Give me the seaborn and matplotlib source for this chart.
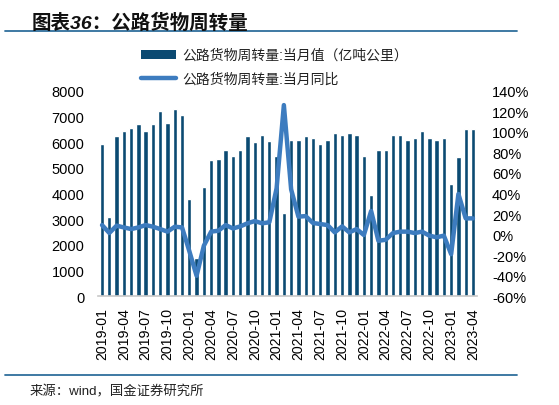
import numpy as np
import pandas as pd
import matplotlib
matplotlib.use("Agg")
import matplotlib.pyplot as plt
import seaborn as sns
from matplotlib.ticker import FuncFormatter, MultipleLocator
from matplotlib.lines import Line2D
from matplotlib.patches import Patch

# ---------------- data ----------------
months = pd.date_range("2019-01-01", "2023-04-01", freq="MS").strftime("%Y-%m").tolist()

turnover = [
    5930, 3070, 6220, 6440, 6560, 6690, 6440, 6690, 7210, 6740, 7280, 7050,   # 2019
    3790, 1480, 4240, 5300, 5340, 5690, 5460, 5690, 6220, 5990, 6280, 6040,   # 2020
    5460, 3240, 6090, 6090, 6220, 6150, 5930, 6090, 6340, 6260, 6340, 6260,   # 2021
    5460, 3940, 5690, 5690, 6260, 6260, 6090, 6150, 6440, 6150, 6090, 6150,   # 2022
    4360, 5410, 6510, 6510,                                                   # 2023
]

yoy = [
    9.3, 1.6, 8.7, 7.0, 5.4, 7.0, 9.3, 7.7, 5.4, 2.9, 7.7, 7.0,              # 2019
    -16.0, -40.0, -10.8, 2.9, 3.8, 9.3, 6.0, 8.0, 11.0, 13.2, 11.0, 12.0,    # 2020
    45.0, 126.0, 44.0, 17.5, 18.0, 11.3, 10.3, 9.3, 2.2, 8.0, 2.2, 5.4,      # 2021
    -0.4, 23.0, -6.0, -5.0, 1.5, 2.9, 2.9, 1.5, 2.9, -1.0, -2.6, -1.0,       # 2022
    -19.0, 39.5, 15.8, 15.8,                                                  # 2023
]

bar_label = "公路货物周转量:当月值（亿吨公里）"
line_label = "公路货物周转量:当月同比"
title = "图表36：公路货物周转量"
source = "来源：wind，国金证券研究所"

df = pd.DataFrame({"month": months, "turnover": turnover, "yoy": yoy})
df["pos"] = np.arange(len(df))

# ---------------- style ----------------
sns.set_theme(style="white")
plt.rcParams["font.family"] = ["Liberation Sans", "Noto Sans CJK SC", "DejaVu Sans"]

bar_color = "#0B4A72"
line_color = "#3D7CBF"

fig = plt.figure(figsize=(5.59, 4.06), dpi=100)
W, H = 559, 406
ax = fig.add_axes([98.4 / W, 1 - 297.3 / H, (476.6 - 98.4) / W, (297.3 - 91.7) / H])

sns.barplot(data=df, x="month", y="turnover", color=bar_color, saturation=1,
            width=0.6, errorbar=None, ax=ax, zorder=2)

ax2 = ax.twinx()
sns.lineplot(data=df, x="pos", y="yoy", color=line_color, linewidth=3.2,
             ax=ax2, zorder=3)

n = len(df)
ax.set_xlim(-0.5, n - 0.5)
ax.set_ylim(0, 8000)
ax2.set_ylim(-60, 140)

ax.yaxis.set_major_locator(MultipleLocator(1000))
ax2.yaxis.set_major_locator(MultipleLocator(20))
ax2.yaxis.set_major_formatter(FuncFormatter(lambda v, p: f"{v:.0f}%"))

ax.set_xticks(np.arange(0, n, 3))
ax.set_xticklabels(months[::3], rotation=90)

for a in (ax, ax2):
    a.set_xlabel("")
    a.set_ylabel("")
    for s in a.spines.values():
        s.set_visible(False)
    a.grid(False)

ax.spines["bottom"].set_visible(True)
ax.spines["bottom"].set_color("#C8C8C8")
ax.spines["bottom"].set_linewidth(1.2)

ax.tick_params(axis="x", length=0, pad=8, labelsize=10.2, colors="black")
ax.tick_params(axis="y", length=0, pad=10, labelsize=10.5, colors="black")
ax2.tick_params(axis="y", length=0, pad=11, labelsize=10.5, colors="black")

# legend
handles = [Patch(facecolor=bar_color, edgecolor="none"),
           Line2D([0], [0], color=line_color, linewidth=3.2)]
fig.legend(handles, [bar_label, line_label], loc="upper left",
           bbox_to_anchor=(141 / W, 1 - 49 / H), frameon=False,
           fontsize=10, handlelength=2.5, handleheight=0.6, handletextpad=0.45,
           labelspacing=0.72, borderpad=0, borderaxespad=0, labelcolor="#222222")

# title, rules, source
fig.text(32 / W, 1 - 23 / H, title, fontsize=14, fontweight="bold", style="italic",
         va="center", ha="left", color="#111111")
fig.add_artist(Line2D([5 / W, 517 / W], [1 - 32 / H] * 2, color="#2F6E9C", lw=1.3))
fig.add_artist(Line2D([5 / W, 517 / W], [1 - 376 / H] * 2, color="#2F6E9C", lw=1.3))
fig.text(30 / W, 1 - 392 / H, source, fontsize=9.6, va="center", ha="left", color="#222222")

fig.savefig("out.png", dpi=100)
